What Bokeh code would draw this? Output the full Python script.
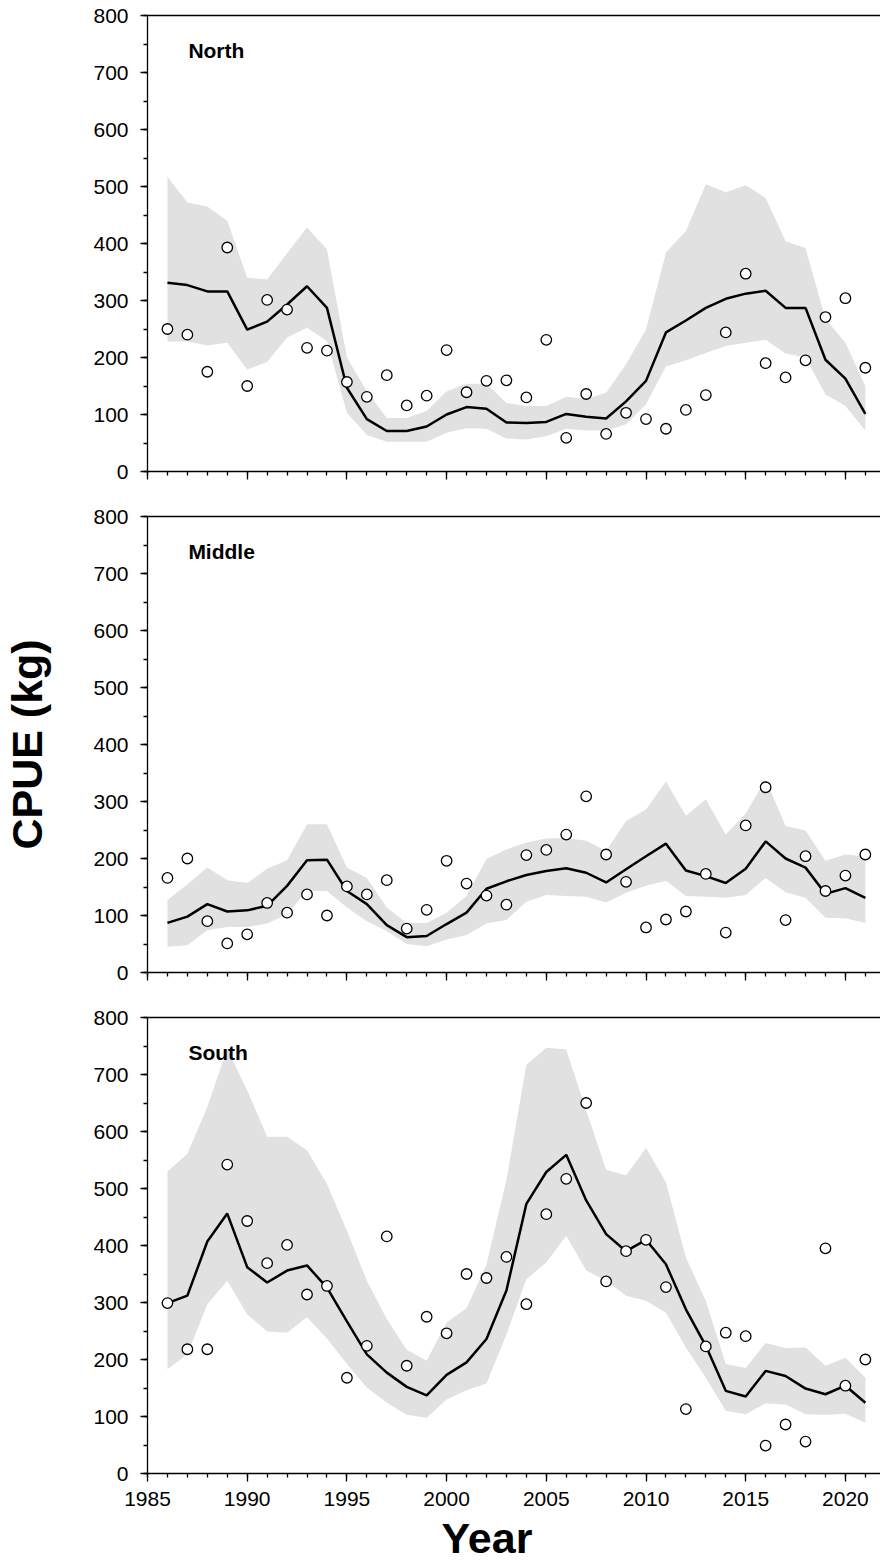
from bokeh.plotting import figure
from bokeh.layouts import column
from bokeh.models import Range1d, SingleIntervalTicker, LinearAxis, Label, Title, CustomJSTickFormatter
from bokeh.embed import file_html
from bokeh.resources import INLINE

years = list(range(1986, 2022))

north_obs = [250, 240, 175, 393, 150, 301, 284, 217, 212, 157, 131, 169, 116, 133, 213, 139, 159, 160,
             130, 231, 59, 136, 66, 103, 92, 75, 108, 134, 244, 347, 190, 165, 195, 271, 304, 182]
north_fit = [331, 327, 316, 316, 249, 263, 293, 325, 287, 147, 92, 71, 71, 79, 100, 113, 110, 86,
             85, 87, 101, 96, 93, 123, 159, 244, 265, 287, 303, 312, 317, 287, 287, 196, 163, 101]
north_up = [517, 472, 465, 440, 340, 337, 383, 428, 390, 200, 141, 94, 94, 106, 141, 154, 154, 120,
            115, 115, 131, 127, 138, 188, 249, 384, 422, 504, 490, 502, 480, 404, 392, 268, 226, 150]
north_lo = [228, 228, 221, 226, 179, 192, 235, 252, 229, 103, 64, 52, 52, 52, 68, 76, 75, 58,
            56, 62, 75, 72, 72, 83, 118, 184, 195, 208, 220, 226, 231, 207, 200, 135, 115, 72]

middle_obs = [166, 200, 90, 51, 67, 122, 105, 137, 100, 151, 137, 162, 77, 110, 196, 156, 135, 119,
              206, 215, 242, 309, 207, 159, 79, 93, 107, 173, 70, 258, 325, 92, 204, 143, 170, 207]
middle_fit = [87, 98, 120, 107, 109, 117, 152, 197, 198, 143, 120, 83, 62, 64, 85, 105, 147, 160,
              171, 178, 183, 175, 158, 181, 204, 226, 179, 169, 157, 182, 230, 200, 184, 138, 148, 131]
middle_up = [127, 155, 184, 162, 157, 182, 197, 260, 260, 184, 166, 114, 87, 87, 105, 134, 199, 216,
             228, 235, 236, 231, 213, 266, 286, 335, 275, 304, 242, 279, 339, 257, 249, 196, 207, 204]
middle_lo = [45, 48, 74, 80, 80, 86, 102, 143, 143, 114, 90, 73, 50, 46, 58, 66, 86, 92,
             124, 136, 134, 133, 123, 140, 152, 161, 134, 133, 131, 136, 166, 141, 131, 96, 95, 87]

south_obs = [299, 218, 218, 542, 443, 369, 401, 314, 329, 168, 224, 416, 189, 275, 246, 350, 343, 380,
             297, 455, 517, 650, 337, 390, 410, 327, 113, 223, 247, 241, 49, 86, 56, 395, 154, 200]
south_fit = [299, 312, 407, 456, 362, 335, 356, 365, 326, 267, 209, 177, 152, 137, 173, 195, 236, 321,
             473, 529, 559, 479, 420, 390, 410, 367, 288, 224, 145, 135, 180, 171, 149, 139, 154, 124]
south_up = [530, 561, 643, 745, 672, 591, 591, 567, 508, 426, 338, 271, 217, 198, 265, 290, 367, 515,
            717, 747, 744, 637, 533, 523, 571, 511, 379, 303, 192, 185, 229, 220, 221, 189, 203, 168]
south_lo = [183, 209, 297, 338, 279, 249, 247, 274, 237, 192, 151, 124, 103, 98, 130, 146, 158, 244,
            341, 370, 417, 356, 338, 312, 303, 282, 221, 168, 110, 104, 123, 121, 104, 103, 105, 89]

regions = ["North", "Middle", "South"]
y_label = "CPUE (kg)"
x_label = "Year"

FONT = "Liberation Sans"
BAND = "#e1e1e1"


def make_panel(name, obs, fit, up, lo, top_border, bottom, show_xlabels=False, ylabel=None):
    height = top_border + 456 + bottom
    p = figure(width=880, height=height,
               x_range=Range1d(1985, 2021.76), y_range=Range1d(0, 800),
               output_backend="svg", toolbar_location=None,
               min_border_left=147, min_border_right=0, min_border_top=top_border,
               min_border_bottom=bottom)
    p.grid.visible = False
    p.outline_line_color = None
    p.background_fill_color = "white"
    p.border_fill_color = "white"

    p.varea(x=years, y1=lo, y2=up, fill_color=BAND)
    p.line(x=years, y=fit, line_color="black", line_width=2.5)
    p.scatter(x=years, y=obs, size=10.5, fill_color="white", line_color="black", line_width=1.3)

    ya = p.yaxis[0]
    ya.ticker = SingleIntervalTicker(interval=100, num_minor_ticks=2)
    ya.axis_line_width = 1.3
    ya.major_tick_out = 7
    ya.major_tick_in = 0
    ya.minor_tick_out = 4
    ya.minor_tick_in = 0
    ya.major_tick_line_width = 1.3
    ya.minor_tick_line_width = 1.3
    ya.major_label_standoff = 12
    ya.major_label_text_font = FONT
    ya.major_label_text_font_size = "21px"
    ya.major_label_text_color = "black"
    if ylabel:
        ya.axis_label = ylabel
        ya.axis_label_text_font = FONT
        ya.axis_label_text_font_size = "43px"
        ya.axis_label_text_font_style = "bold"
        ya.axis_label_text_color = "black"
        ya.axis_label_standoff = 39

    xa = p.xaxis[0]
    xa.ticker = SingleIntervalTicker(interval=5, num_minor_ticks=5)
    xa.axis_line_width = 1.3
    xa.major_tick_out = 8
    xa.major_tick_in = 0
    xa.minor_tick_out = 4
    xa.minor_tick_in = 0
    xa.major_tick_line_width = 1.3
    xa.minor_tick_line_width = 1.3
    if show_xlabels:
        xa.major_label_standoff = 10
        xa.major_label_text_font = FONT
        xa.major_label_text_font_size = "21px"
        xa.major_label_text_color = "black"
        t = Title(text=x_label, align="left", offset=294, standoff=7,
                  text_font=FONT, text_font_size="43px", text_font_style="bold",
                  text_color="black")
        p.add_layout(t, "below")
    else:
        xa.formatter = CustomJSTickFormatter(code="return ''")
        xa.major_label_standoff = 0

    top = LinearAxis(formatter=CustomJSTickFormatter(code="return ''"),
                     major_tick_out=0, major_tick_in=0, minor_tick_out=0, minor_tick_in=0,
                     major_label_standoff=0, axis_line_width=1.3)
    top.ticker = SingleIntervalTicker(interval=1000)
    p.add_layout(top, "above")

    p.add_layout(Label(x=1987.05, y=739, text=name, text_font=FONT, text_font_size="21px",
                       text_font_style="bold", text_color="black", text_baseline="alphabetic"))
    return p


p1 = make_panel(regions[0], north_obs, north_fit, north_up, north_lo, 15, 30)
p2 = make_panel(regions[1], middle_obs, middle_fit, middle_up, middle_lo, 15, 30, ylabel=y_label)
p3 = make_panel(regions[2], south_obs, south_fit, south_up, south_lo, 15, 115, show_xlabels=True)

layout = column(p1, p2, p3, spacing=0, width=880, height=1563, styles={"overflow": "hidden"})
open("out.html", "w").write(file_html(layout, INLINE))
